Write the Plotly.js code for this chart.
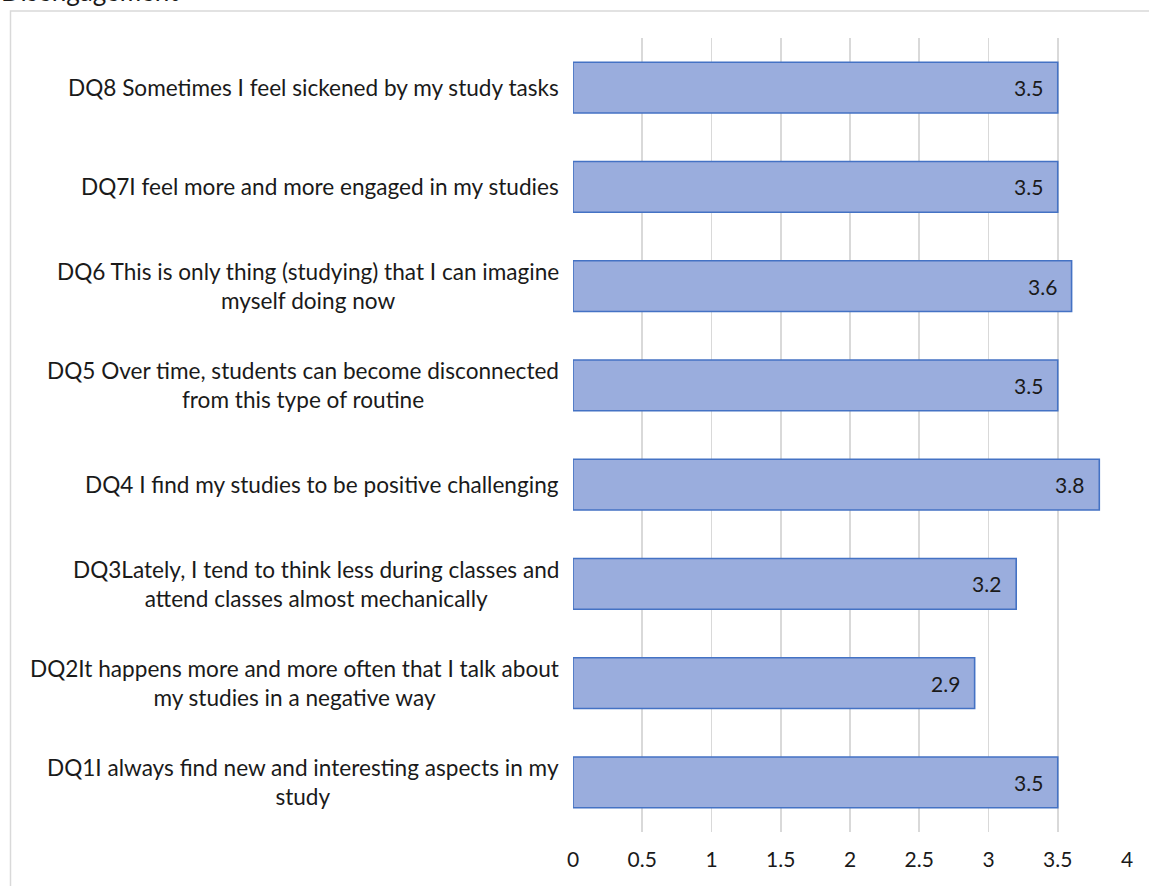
<!DOCTYPE html>
<html>
<head>
<meta charset="utf-8">
<script src="https://cdn.plot.ly/plotly-3.0.1.min.js"></script>
<style>
  html, body { margin: 0; padding: 0; background: #ffffff; overflow: hidden; }
  #chart { width: 1149px; height: 886px; }
</style>
</head>
<body>
<div id="chart"></div>
<script>
// ---- data (bottom to top, as drawn on the category axis) ----
const categories = [
  "DQ1I always find new and interesting aspects in my<br>study",
  "DQ2It happens more and more often that I talk about<br>my studies in a negative way",
  "DQ3Lately, I tend to think less during classes and<br>attend classes almost mechanically",
  "DQ4 I find my studies to be positive challenging",
  "DQ5 Over time, students can become disconnected<br>from this type of routine",
  "DQ6 This is only thing (studying) that I can imagine<br>myself doing now",
  "DQ7I feel more and more engaged in my studies",
  "DQ8 Sometimes I feel sickened by my study tasks"
];
const values = [3.5, 2.9, 3.2, 3.8, 3.5, 3.6, 3.5, 3.5];
const valueLabels = ["3.5", "2.9", "3.2", "3.8", "3.5", "3.6", "3.5", "3.5"];
const xTickVals = [0, 0.5, 1, 1.5, 2, 2.5, 3, 3.5, 4];
const xTickText = ["0", "0.5", "1", "1.5", "2", "2.5", "3", "3.5", "4"];
const chartTitle = "Disengagement";

// ---- layout geometry ----
const W = 1149, H = 886;
const M = { l: 573, r: 22, t: 38, b: 54 };
const pw = W - M.l - M.r, ph = H - M.t - M.b;
const px2paperX = p => (p - M.l) / pw;
const px2paperY = p => (H - M.b - p) / ph;

const FONT = "Lato, 'Open Sans', sans-serif";
const TEXT = "#1a1a1a";

const ids = categories.map((c, i) => "c" + i);

const trace = {
  type: "bar",
  orientation: "h",
  y: ids,
  x: values,
  marker: {
    color: "#9aaddd",
    line: { color: "#4472c4", width: 1.6 }
  },
  hoverinfo: "skip"
};

const annotations = [];
// category labels (centered multi-line, right edge near axis)
categories.forEach((c, i) => {
  annotations.push({
    xref: "paper", yref: "y",
    x: px2paperX(561), y: ids[i],
    xanchor: "right", yanchor: "middle",
    text: c, align: "center", showarrow: false,
    font: { family: FONT, size: 22.6, color: TEXT }
  });
});
// value labels inside bar ends
values.forEach((v, i) => {
  annotations.push({
    xref: "x", yref: "y",
    x: v, y: ids[i],
    xanchor: "right", yanchor: "middle", xshift: -13,
    text: valueLabels[i], showarrow: false,
    font: { family: FONT, size: 21, color: TEXT }
  });
});
// chart title (partly above the visible frame, as in the reference)
annotations.push({
  xref: "paper", yref: "paper",
  x: px2paperX(-1), y: px2paperY(9),
  xanchor: "left", yanchor: "bottom",
  text: chartTitle, showarrow: false,
  font: { family: FONT, size: 26, color: TEXT }
});

const layout = {
  width: W, height: H,
  margin: M,
  paper_bgcolor: "#ffffff",
  plot_bgcolor: "#ffffff",
  showlegend: false,
  bargap: 0.49,
  xaxis: {
    range: [0, 4],
    tickvals: xTickVals,
    ticktext: xTickText,
    showgrid: true,
    gridcolor: "#d9d9d9",
    gridwidth: 1.8,
    zeroline: false,
    showline: false,
    ticks: "",
    ticklabelstandoff: 13,
    tickfont: { family: FONT, size: 21, color: TEXT },
    fixedrange: true
  },
  yaxis: {
    type: "category",
    categoryorder: "array",
    categoryarray: ids,
    showticklabels: false,
    showgrid: false,
    zeroline: false,
    showline: false,
    ticks: "",
    fixedrange: true
  },
  shapes: [{
    type: "rect", xref: "paper", yref: "paper",
    x0: px2paperX(10.5), x1: px2paperX(W + 20),
    y0: px2paperY(H + 20), y1: px2paperY(11),
    line: { color: "#d9d9d9", width: 1.5 },
    fillcolor: "rgba(0,0,0,0)",
    layer: "below"
  }],
  annotations: annotations
};

Plotly.newPlot("chart", [trace], layout, { staticPlot: true, displayModeBar: false });
</script>
</body>
</html>
